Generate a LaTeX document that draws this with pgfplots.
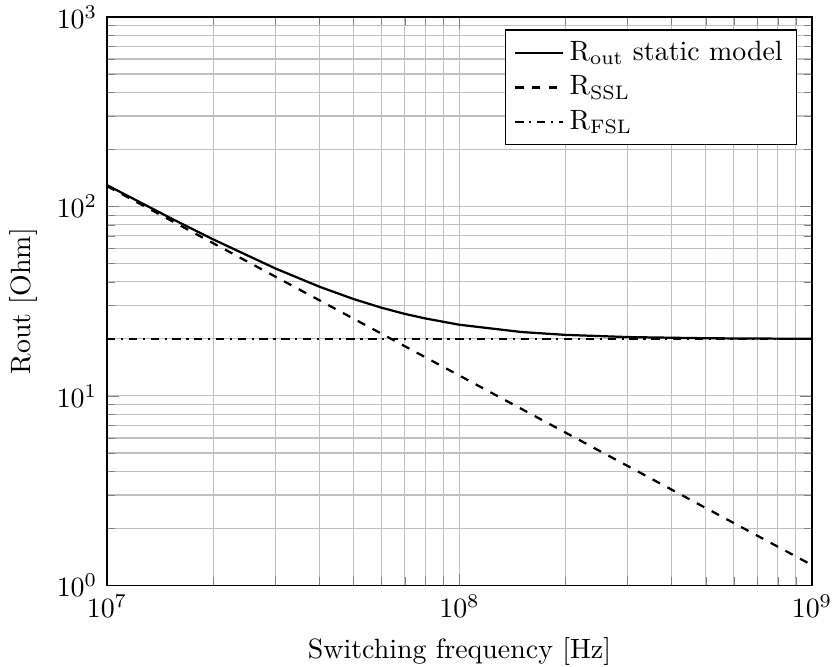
\documentclass[border=0pt]{standalone}
\usepackage{pgfplots}
\pgfplotsset{compat=1.18}
\begin{document}
\begin{tikzpicture}
\begin{loglogaxis}[
  scale only axis,
  width=8.88cm, height=7.16cm,
  xmin=1e7, xmax=1e9, ymin=1, ymax=1000,
  grid=both,
  xlabel={Switching frequency [Hz]},
  ylabel={Rout [Ohm]},
  legend style={at={(0.979,0.978)}, anchor=north east},
  legend cell align=left,
]
\addplot[black, thick] coordinates {
(1e7,129.55) (1.5e7,87.64) (2e7,67.05) (3e7,47.12) (4e7,37.74) (5e7,32.49) (6e7,29.23) (7e7,27.10) (8e7,25.64) (1e8,23.75) (1.5e8,21.74) (2e8,21.00) (3e8,20.45) (5e8,20.16) (7e8,20.08) (1e9,20.04)};
\addlegendentry{R\textsubscript{out} static model}
\addplot[black, thick, dashed] coordinates {(1e7,128) (1e9,1.28)};
\addlegendentry{R\textsubscript{SSL}}
\addplot[black, thick, dash dot] coordinates {(1e7,20) (1e9,20)};
\addlegendentry{R\textsubscript{FSL}}
\coordinate (bbl) at (rel axis cs:-0.1518,-0.1426);
\coordinate (btr) at (rel axis cs:1.0298,1.0299);
\end{loglogaxis}
\pgfresetboundingbox
\useasboundingbox (bbl) rectangle (btr);
\end{tikzpicture}
\end{document}
